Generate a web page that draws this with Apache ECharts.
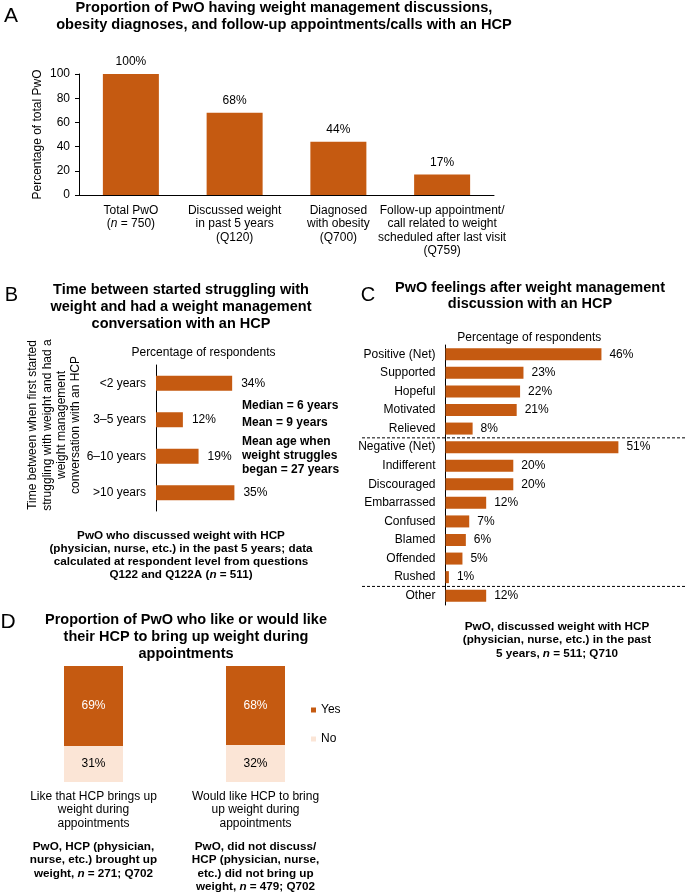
<!DOCTYPE html>
<html><head><meta charset="utf-8">
<script src="https://cdn.jsdelivr.net/npm/echarts@6/dist/echarts.min.js"></script>
<style>html,body{margin:0;padding:0;background:#fff}#c{width:685px;height:895px}</style>
</head><body><div id="c"></div>
<script>
const FONT = "'Liberation Sans', Arial, Helvetica, sans-serif";
const ORANGE = '#C55A11';
const PEACH = '#FBE5D6';

// Panel A
const aCategories = ['Total PwO\n(n = 750)', 'Discussed weight\nin past 5 years\n(Q120)', 'Diagnosed\nwith obesity\n(Q700)', 'Follow-up appointment/\ncall related to weight\nscheduled after last visit\n(Q759)'];
const aValues = [100, 68, 44, 17];
const aAxisMin = 0, aAxisMax = 100, aAxisStep = 20;

// Panel B
const bCategories = ['<2 years', '3–5 years', '6–10 years', '>10 years'];
const bValues = [34, 12, 19, 35];

// Panel C
const cCategories = ['Positive (Net)', 'Supported', 'Hopeful', 'Motivated', 'Relieved', 'Negative (Net)', 'Indifferent', 'Discouraged', 'Embarrassed', 'Confused', 'Blamed', 'Offended', 'Rushed', 'Other'];
const cValues = [46, 23, 22, 21, 8, 51, 20, 20, 12, 7, 6, 5, 1, 12];

// Panel D
const dCategories = ['Like that HCP brings up\nweight during\nappointments', 'Would like HCP to bring\nup weight during\nappointments'];
const dYes = [69, 68];
const dNo = [31, 32];

const chart = echarts.init(document.getElementById('c'), null, {renderer: 'canvas'});

const base = {fontFamily: FONT, fontSize: 12, color: '#000'};
const italicRich = {i: {fontFamily: FONT, fontSize: 12, fontStyle: 'italic', color: '#000', lineHeight: 13.3}};

chart.setOption({
  animation: false,
  backgroundColor: '#fff',
  textStyle: {fontFamily: FONT},
  legend: {
    data: ['Yes', 'No'], orient: 'vertical', left: 306, top: 699,
    itemWidth: 5, itemHeight: 5, itemGap: 17, icon: 'rect', selectedMode: false,
    textStyle: {fontFamily: FONT, fontSize: 12, color: '#000'}
  },
  grid: [
    {left: 79, top: 74, width: 415, height: 121},
    {left: 156, top: 365, width: 112, height: 146},
    {left: 445.5, top: 345, width: 203.4, height: 260},
    {left: 12.5, top: 666, width: 324, height: 116}
  ],
  xAxis: [
    {type: 'category', gridIndex: 0, data: aCategories,
      axisLine: {show: true, lineStyle: {color: '#000', width: 1}}, axisTick: {show: false},
      axisLabel: Object.assign({}, base, {interval: 0, margin: 9, lineHeight: 13.3,
        formatter: v => v.replace('(n =', '({i|n} ='), rich: italicRich})},
    {type: 'value', gridIndex: 1, min: 0, max: 50, show: false},
    {type: 'value', gridIndex: 2, min: 0, max: 60, show: false},
    {type: 'category', gridIndex: 3, data: dCategories,
      axisLine: {show: false}, axisTick: {show: false},
      axisLabel: Object.assign({}, base, {interval: 0, margin: 7.5, lineHeight: 13.5})}
  ],
  yAxis: [
    {type: 'value', gridIndex: 0, min: aAxisMin, max: aAxisMax, interval: aAxisStep,
      axisLine: {show: true, lineStyle: {color: '#000', width: 1}},
      axisTick: {show: true, length: 4, lineStyle: {color: '#000'}},
      splitLine: {show: false},
      axisLabel: Object.assign({}, base, {margin: 9}),
      name: 'Percentage of total PwO', nameLocation: 'middle', nameRotate: 90, nameGap: 35,
      nameMoveOverlap: false,
      nameTextStyle: Object.assign({}, base)},
    {type: 'category', gridIndex: 1, data: bCategories, inverse: true,
      axisLine: {show: true, lineStyle: {color: '#000', width: 1}}, axisTick: {show: false},
      axisLabel: Object.assign({}, base, {margin: 10})},
    {type: 'category', gridIndex: 2, data: cCategories, inverse: true,
      axisLine: {show: true, lineStyle: {color: '#000', width: 1}}, axisTick: {show: false},
      axisLabel: Object.assign({}, base, {margin: 10, interval: 0})},
    {type: 'value', gridIndex: 3, min: 0, max: 100, show: false}
  ],
  series: [
    {type: 'bar', xAxisIndex: 0, yAxisIndex: 0, data: aValues, barWidth: 56,
      itemStyle: {color: ORANGE},
      label: Object.assign({show: true, position: 'top', distance: 6, formatter: '{c}%'}, base)},
    {type: 'bar', xAxisIndex: 1, yAxisIndex: 1, data: bValues, barWidth: 15,
      itemStyle: {color: ORANGE},
      label: Object.assign({show: true, position: 'right', distance: 9, formatter: '{c}%'}, base)},
    {type: 'bar', xAxisIndex: 2, yAxisIndex: 2, data: cValues, barWidth: 12,
      itemStyle: {color: ORANGE},
      label: Object.assign({show: true, position: 'right', distance: 8, formatter: '{c}%'}, base)},
    {name: 'No', type: 'bar', stack: 'd', xAxisIndex: 3, yAxisIndex: 3, data: dNo, barWidth: 59,
      itemStyle: {color: PEACH},
      label: Object.assign({show: true, position: 'inside', formatter: '{c}%'}, base)},
    {name: 'Yes', type: 'bar', stack: 'd', xAxisIndex: 3, yAxisIndex: 3, data: dYes, barWidth: 59,
      itemStyle: {color: ORANGE},
      label: Object.assign({show: true, position: 'inside', formatter: '{c}%'}, base, {color: '#fff'})}
  ]
});

function txt(x, y, text, o) {
  return {type: 'text', x: x, y: y, silent: true, rotation: (o && o.rotation) || 0,
    style: Object.assign({text: text, fill: '#000', fontFamily: FONT, fontSize: 12,
      align: 'center', verticalAlign: 'middle', lineHeight: 13}, o && o.style)};
}
const bold = (extra) => ({style: Object.assign({fontWeight: 'bold'}, extra)});
const boldRich = {i: {fontFamily: FONT, fontSize: 11.7, fontWeight: 'bold', fontStyle: 'italic', fill: '#000'}};

// dashed separators in panel C, placed between category bands
const yRel = chart.convertToPixel({yAxisIndex: 2}, 'Relieved');
const yNeg = chart.convertToPixel({yAxisIndex: 2}, 'Negative (Net)');
const yRush = chart.convertToPixel({yAxisIndex: 2}, 'Rushed');
const yOth = chart.convertToPixel({yAxisIndex: 2}, 'Other');
const dash = (y) => ({type: 'line', silent: true, shape: {x1: 362, y1: y, x2: 685, y2: y},
  style: {stroke: '#000', lineWidth: 1, lineDash: [3, 2]}});

const elements = [
  txt(11, 16, 'A', {style: {fontSize: 21}}),
  txt(284, 16, 'Proportion of PwO having weight management discussions,\nobesity diagnoses, and follow-up appointments/calls with an HCP',
    bold({fontSize: 14.6, lineHeight: 17})),

  txt(11.5, 295, 'B', {style: {fontSize: 20}}),
  txt(181, 307, 'Time between started struggling with\nweight and had a weight management\nconversation with an HCP',
    bold({fontSize: 14.5, lineHeight: 16.7})),
  txt(203.5, 352.7, 'Percentage of respondents'),
  txt(54.5, 425, 'Time between when first started\nstruggling with weight and had a\nweight management\nconversation with an HCP',
    {rotation: Math.PI / 2, style: {lineHeight: 14.3}}),
  txt(242, 406, 'Median = 6 years', bold({align: 'left', fontSize: 12})),
  txt(242, 422.3, 'Mean = 9 years', bold({align: 'left', fontSize: 12})),
  txt(242, 455.6, 'Mean age when\nweight struggles\nbegan = 27 years', bold({align: 'left', fontSize: 12, lineHeight: 13.8})),
  txt(181, 555.3, 'PwO who discussed weight with HCP\n(physician, nurse, etc.) in the past 5 years; data\ncalculated at respondent level from questions\nQ122 and Q122A ({i|n} = 511)',
    bold({fontSize: 11.7, lineHeight: 12.8, rich: boldRich})),

  txt(368, 295, 'C', {style: {fontSize: 20}}),
  txt(530, 295.5, 'PwO feelings after weight management\ndiscussion with an HCP', bold({fontSize: 14.5, lineHeight: 16})),
  txt(529.3, 337.3, 'Percentage of respondents'),
  dash((yRel + yNeg) / 2),
  dash((yRush + yOth) / 2),
  txt(557, 640, 'PwO, discussed weight with HCP\n(physician, nurse, etc.) in the past\n5 years, {i|n} = 511; Q710',
    bold({fontSize: 11.7, lineHeight: 13.3, rich: boldRich})),

  txt(8, 622.5, 'D', {style: {fontSize: 21}}),
  txt(186, 637, 'Proportion of PwO who like or would like\ntheir HCP to bring up weight during\nappointments', bold({fontSize: 14.5, lineHeight: 17})),
  txt(93.5, 860.2, 'PwO, HCP (physician,\nnurse, etc.) brought up\nweight, {i|n} = 271; Q702',
    bold({fontSize: 11.7, lineHeight: 13.5, rich: boldRich})),
  txt(255.5, 867, 'PwO, did not discuss/\nHCP (physician, nurse,\netc.) did not bring up\nweight, {i|n} = 479; Q702',
    bold({fontSize: 11.7, lineHeight: 13.5, rich: boldRich}))
];
chart.setOption({graphic: {elements: elements}});
</script>
</body></html>
